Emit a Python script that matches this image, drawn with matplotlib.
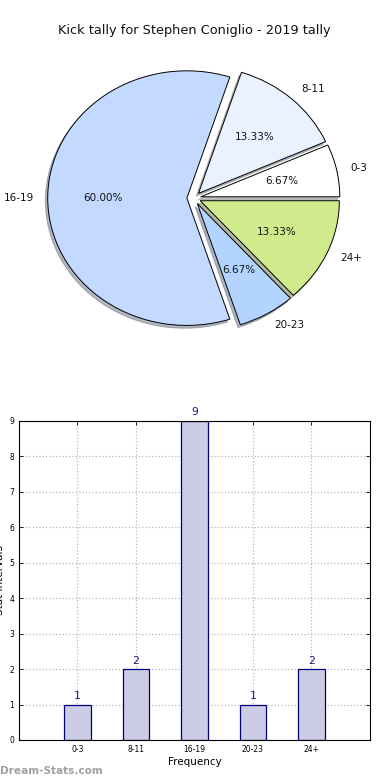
import matplotlib
matplotlib.use("Agg")
import matplotlib.pyplot as plt

categories = ["0-3", "8-11", "16-19", "20-23", "24+"]
counts = [1, 2, 9, 1, 2]
pie_colors = ["#ffffff", "#eaf1ff", "#c4d9ff", "#b3d4ff", "#d0eb8b"]
title = "Kick tally for Stephen Coniglio - 2019 tally"

fig = plt.figure(figsize=(3.9, 7.8), dpi=100)

# Pie
axp = fig.add_axes([0.051, 0.542, 0.892, 0.408])
wedges, texts, autotexts = axp.pie(
    counts, labels=categories, colors=pie_colors, autopct="%.2f%%",
    startangle=0, counterclock=True, explode=[0.05] * len(counts),
    shadow=dict(ox=-0.012, oy=-0.016, shade=0.5),
    wedgeprops=dict(edgecolor="black", linewidth=0.7),
    textprops=dict(fontsize=7.5, color="#111111"))
axp.set_aspect("auto")
axp.set_xlim(-1.25, 1.25)
axp.set_ylim(-1.25, 1.25)
fig.text(0.497, 0.9615, title, ha="center", va="center", fontsize=9.3, color="#111111")

# Bar chart
axb = fig.add_axes([0.0487, 0.0513, 0.9, 0.409])
x = list(range(len(categories)))
axb.bar(x, counts, width=0.45, color="#ccccE4", edgecolor="#000080", linewidth=0.9, zorder=2)
for xi, c in zip(x, counts):
    axb.text(xi, c + 0.1, str(c), ha="center", va="bottom", fontsize=7.8, color="#1a1a80")
axb.set_xlim(-1, 5)
axb.set_ylim(0, 9)
axb.set_xticks(x)
axb.set_xticklabels(categories)
axb.set_yticks(range(0, 10))
axb.tick_params(axis="both", labelsize=5.5, direction="in", top=True, right=True, length=3, width=0.6)
axb.grid(True, linestyle=":", color="#b8b8b8", linewidth=0.9, zorder=0)
axb.set_axisbelow(True)
axb.set_xlabel("Frequency", fontsize=7.5, labelpad=2)
axb.set_ylabel("Stat Intervals", fontsize=7.5, labelpad=3)
for s in axb.spines.values():
    s.set_linewidth(0.8)

fig.text(0.0, 0.012, "Dream-Stats.com", fontsize=7.6, color="#a0a0a0", fontweight="bold", ha="left", va="center")

fig.savefig("out.png", dpi=100)
